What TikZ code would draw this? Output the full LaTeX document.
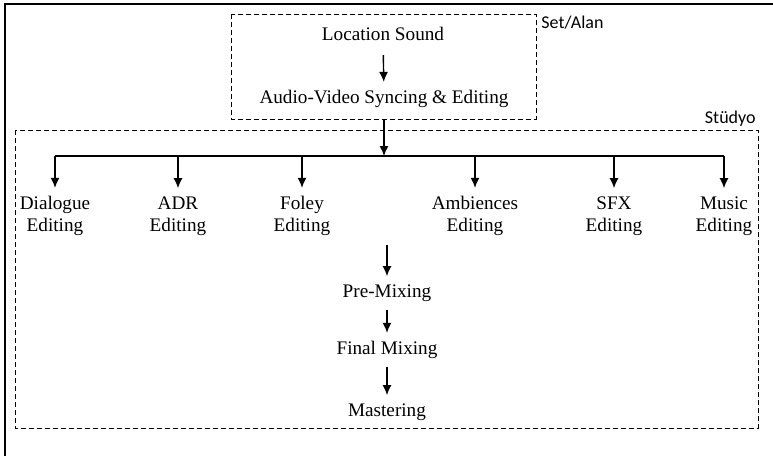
\documentclass[tikz,border=0pt]{standalone}
\usepackage{fontspec}
\setmainfont{Liberation Serif}
\newfontfamily\zonefont{Carlito}
\usetikzlibrary{positioning}
\usetikzlibrary{arrows.meta}

\begin{document}
\begin{tikzpicture}[x=0.5pt,y=-0.5pt,
  txt/.style={font=\fontsize{9.6}{11}\selectfont, align=center, inner sep=4pt},
  zone/.style={draw, line width=0.5pt, dash pattern=on 2.5pt off 1.5pt},
  zonelabel/.style={font=\zonefont\fontsize{9}{10}\selectfont, inner sep=0pt},
  flow/.style={-{Latex[length=5pt,width=4.5pt]}, line width=0.7pt}]
 \useasboundingbox (0,0) rectangle (773,456);
 \draw[line width=1pt] (5,456) -- (5,4) -- (773,4);
 % set / alan
 \draw[zone] (231,14) rectangle (536,119);
 \node[zonelabel, anchor=north west] (set) at (541,16) {Set/Alan};
 \node[txt] (loc) at (383,34) {Location Sound};
 \node[txt] (sync) at (384,99) {Audio-Video Syncing \& Editing};
 \draw[flow, shorten <=3pt] (loc) -- (sync);
 % studyo
 \draw[zone] (15,130) rectangle (758,428);
 \node[zonelabel, anchor=south east] (studyo) at (756,127) {Stüdyo};
 \coordinate (setout) at (384,119);
 \coordinate (split) at (384,156);
 \draw[flow] (setout) -- (split);
 \node[txt] (dia) at (55,216) {Dialogue\\Editing};
 \node[txt] (adr) at (178,216) {ADR\\Editing};
 \node[txt] (fol) at (302,216) {Foley\\Editing};
 \node[txt] (amb) at (475,216) {Ambiences\\Editing};
 \node[txt] (sfx) at (614,216) {SFX\\Editing};
 \node[txt] (mus) at (724,216) {Music\\Editing};
 \draw[line width=0.7pt] (dia |- split) -- (mus |- split);
 \foreach \n in {dia,adr,fol,amb,sfx,mus}
  \draw[flow] (\n |- split) -- (\n);
 % mixing
 \coordinate (mixin) at (387,245);
 \node[txt] (pre) at (387,293) {Pre-Mixing};
 \node[txt] (fin) at (387,350) {Final Mixing};
 \node[txt] (mas) at (387,412) {Mastering};
 \draw[flow] (mixin) -- (pre);
 \draw[flow] (pre) -- (fin);
 \draw[flow] (fin) -- (mas);
\end{tikzpicture}
\end{document}
